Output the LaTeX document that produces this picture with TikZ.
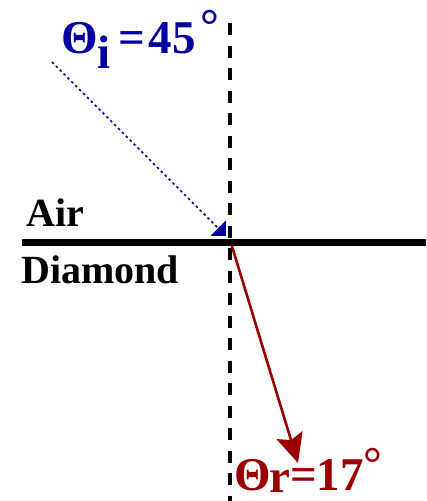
\documentclass[tikz,border=0pt]{standalone}
\usepackage{fontspec}
\setmainfont{Liberation Serif}
\usetikzlibrary{arrows.meta}
\definecolor{incblue}{HTML}{0000A0}
\definecolor{refred}{HTML}{990000}
\begin{document}
\begin{tikzpicture}[x=1pt,y=-1pt,
  lbl/.style={anchor=base west,inner sep=0pt,font=\fontsize{40}{40}\selectfont\bfseries},
  anglbl/.style={anchor=base west,inner sep=0pt,font=\fontsize{47}{47}\selectfont\bfseries},
  normalline/.style={line width=4pt,dash pattern=on 12pt off 10.5pt},
  surface/.style={line width=7pt},
  incray/.style={incblue,line width=1.6pt,dash pattern=on 2.5pt off 3pt,-{Triangle[length=11pt,width=21pt]}},
  refray/.style={refred,line width=2.6pt,-{Stealth[length=29pt,width=27pt,inset=5pt]}}]
\useasboundingbox (0,0) rectangle (426,501);
\coordinate (ntop) at (230,23);
\coordinate (nbot) at (230,501);
\coordinate (sl) at (22,242);
\coordinate (sr) at (426,242);
\coordinate (istart) at (52,62);
\coordinate (itip) at (226,236);
\coordinate (hit) at (231,243);
\coordinate (rtip) at (298,463);
\draw[normalline] (ntop) -- (nbot);
\draw[refray] (hit) -- (rtip);
\draw[incray] (istart) -- (itip);
\draw[surface] (sl) -- (sr);
\node[lbl] (air) at (26,226) {Air};
\node[lbl] (dia) at (21,283) {Diamond};
\node[anglbl,text=incblue] (thi) at (61,53) {Θ\raisebox{-15pt}{i}\hspace{8pt}=\hspace{3pt}45\hspace{5pt}\raisebox{12pt}{°}};
\node[anglbl,text=refred] (thr) at (234.5,490) {Θ\hspace{-2pt}\raisebox{-2pt}{r}=17\raisebox{11pt}{°}};
\end{tikzpicture}
\end{document}
